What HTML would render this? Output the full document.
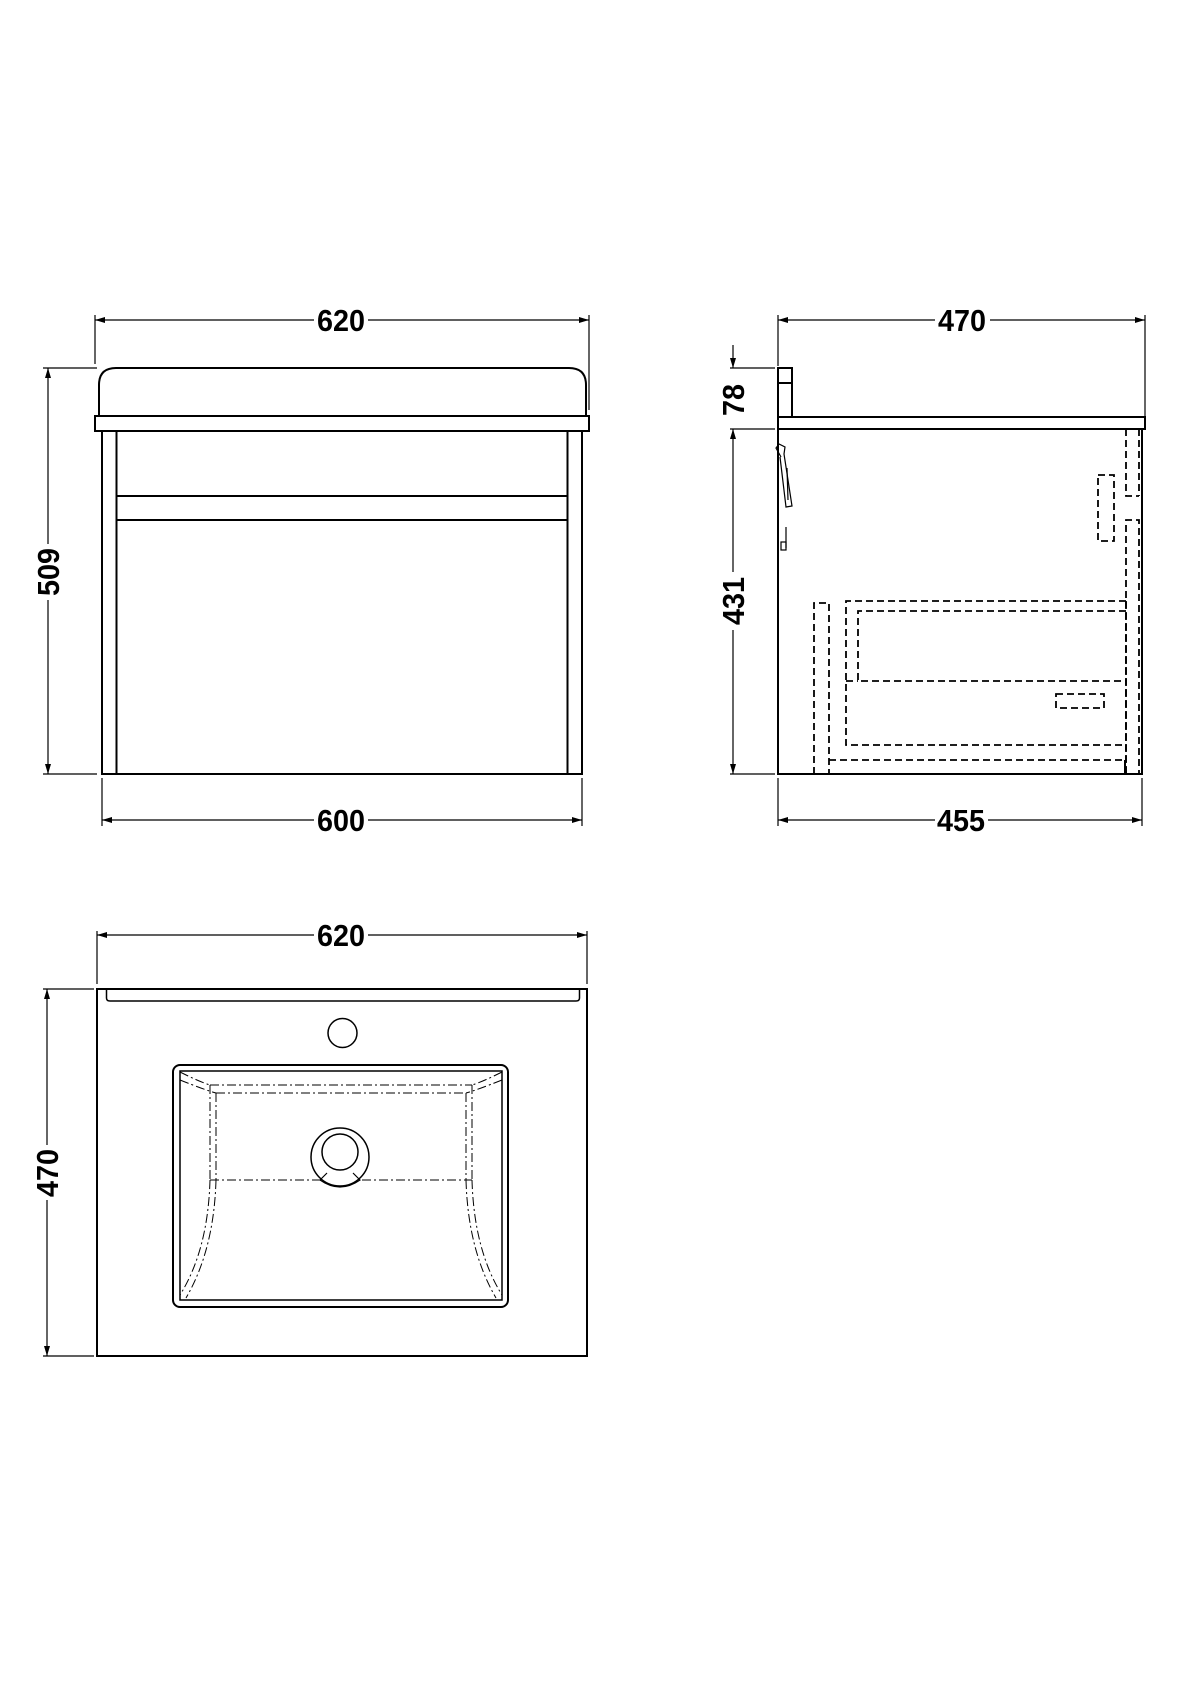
<!DOCTYPE html>
<html><head><meta charset="utf-8"><style>
html,body{margin:0;padding:0;background:#fff}
svg{display:block}
text{font-family:"Liberation Sans",sans-serif;font-weight:bold;font-size:31px;fill:#000}
</style></head><body>
<svg width="1190" height="1684" viewBox="0 0 1190 1684" xmlns="http://www.w3.org/2000/svg">
<defs>
<marker id="a" viewBox="0 0 10 6" refX="10" refY="3" markerWidth="10" markerHeight="6" markerUnits="userSpaceOnUse" orient="auto-start-reverse"><path d="M0 0L10 3L0 6Z" fill="#000"/></marker>
</defs>
<g fill="none" stroke="#000">
<!-- FRONT VIEW -->
<g stroke-width="1.2">
<line x1="95" y1="315" x2="95" y2="364"/><line x1="589" y1="315" x2="589" y2="410"/>
<line x1="95" y1="320" x2="314" y2="320" marker-start="url(#a)"/><line x1="368" y1="320" x2="589" y2="320" marker-end="url(#a)"/>
<line x1="43" y1="368" x2="97" y2="368"/><line x1="43" y1="774" x2="97" y2="774"/>
<line x1="48" y1="368" x2="48" y2="544" marker-start="url(#a)"/><line x1="48" y1="600" x2="48" y2="774" marker-end="url(#a)"/>
<line x1="102" y1="778" x2="102" y2="826"/><line x1="582" y1="778" x2="582" y2="826"/>
<line x1="102" y1="820" x2="314" y2="820" marker-start="url(#a)"/><line x1="368" y1="820" x2="582" y2="820" marker-end="url(#a)"/>
</g>
<g stroke-width="2">
<path d="M99 416V385Q99 368 116 368H569Q586 368 586 385V416"/>
<rect x="95" y="416" width="494" height="15"/>
<rect x="102" y="431" width="14.5" height="343"/>
<rect x="567.5" y="431" width="14.5" height="343"/>
<line x1="116.5" y1="496" x2="567.5" y2="496"/>
<line x1="116.5" y1="520" x2="567.5" y2="520"/>
<line x1="116.5" y1="774" x2="567.5" y2="774"/>
</g>
<!-- SIDE VIEW -->
<g stroke-width="1.2">
<line x1="778" y1="315" x2="778" y2="366"/><line x1="1145" y1="315" x2="1145" y2="416"/>
<line x1="778" y1="320" x2="935" y2="320" marker-start="url(#a)"/><line x1="990" y1="320" x2="1145" y2="320" marker-end="url(#a)"/>
<line x1="730" y1="368" x2="775" y2="368"/><line x1="730" y1="429" x2="775" y2="429"/><line x1="730" y1="774" x2="775" y2="774"/>
<line x1="733" y1="345" x2="733" y2="368" marker-end="url(#a)"/>
<line x1="733" y1="429" x2="733" y2="572" marker-start="url(#a)"/><line x1="733" y1="630" x2="733" y2="774" marker-end="url(#a)"/>
<line x1="778" y1="778" x2="778" y2="826"/><line x1="1142" y1="778" x2="1142" y2="826"/>
<line x1="778" y1="820" x2="935" y2="820" marker-start="url(#a)"/><line x1="988" y1="820" x2="1142" y2="820" marker-end="url(#a)"/>
</g>
<g stroke-width="2">
<rect x="778" y="368" width="14" height="49"/><line x1="778" y1="383" x2="792" y2="383"/>
<rect x="778" y="417" width="367" height="12"/>
<path d="M778 429V774H1142V429"/>
<line x1="1125" y1="760" x2="1125" y2="774"/>
</g>
<g stroke-width="1.2">
<path d="M781 457L776 448L779 444L785 447L784 454L792 506L786 507L780 457"/>
<line x1="787" y1="468" x2="788" y2="500"/>
<line x1="786" y1="527" x2="786" y2="548"/><rect x="781" y="542" width="5" height="8"/>
</g>
<g stroke-width="1.8" stroke-dasharray="7,4">
<path d="M1126 429V496H1139"/><path d="M1139 429V496"/>
<path d="M1126 774V520H1139V774"/>
<rect x="1098" y="475" width="16" height="66"/>
<path d="M1126 601H846V745H1126"/>
<path d="M1126 611H858V681H1126"/>
<line x1="846" y1="681" x2="858" y2="681"/>
<rect x="1056" y="694" width="48" height="14"/>
<path d="M814 774V603H829V774"/>
<path d="M829 760H1125"/>
<line x1="1126" y1="601" x2="1126" y2="774"/>
</g>
<!-- PLAN VIEW -->
<g stroke-width="1.2">
<line x1="97" y1="931" x2="97" y2="984"/><line x1="587" y1="931" x2="587" y2="984"/>
<line x1="97" y1="935" x2="314" y2="935" marker-start="url(#a)"/><line x1="368" y1="935" x2="587" y2="935" marker-end="url(#a)"/>
<line x1="43" y1="989" x2="94" y2="989"/><line x1="43" y1="1356" x2="94" y2="1356"/>
<line x1="47" y1="989" x2="47" y2="1145" marker-start="url(#a)"/><line x1="47" y1="1200" x2="47" y2="1356" marker-end="url(#a)"/>
</g>
<g stroke-width="2">
<rect x="97" y="989" width="490" height="367"/>
<path d="M106.5 989V998Q106.5 1001 110 1001H576Q579.5 1001 579.5 998V989" stroke-width="1.5"/>
<circle cx="342.5" cy="1033" r="14.5" stroke-width="1.5"/>
<rect x="173" y="1065" width="335" height="242" rx="7"/>
<rect x="180" y="1071" width="322" height="229" stroke-width="1.5"/>
<circle cx="340" cy="1157" r="29" stroke-width="1.5"/>
<circle cx="340" cy="1152" r="18" stroke-width="1.5"/>
<path d="M327 1173L320 1180Q330 1187 340 1187Q350 1187 360 1180L353 1173" stroke-width="1.2"/>
</g>
<g stroke-width="1" stroke-dasharray="9,3,2,3">
<path d="M210 1085H472"/><path d="M216 1093H466"/>
<path d="M210 1180H320"/><path d="M362 1180H472"/>
<path d="M210 1085V1180"/><path d="M216 1093V1180"/>
<path d="M472 1085V1180"/><path d="M466 1093V1180"/>
<path d="M180 1072Q200 1082 210 1085"/><path d="M180 1080Q205 1090 216 1093"/>
<path d="M502 1072Q482 1082 472 1085"/><path d="M502 1080Q477 1090 466 1093"/>
<path d="M210 1180Q208 1250 180 1295"/><path d="M216 1180Q214 1250 186 1298"/>
<path d="M472 1180Q474 1250 502 1295"/><path d="M466 1180Q468 1250 496 1298"/>
</g>
</g>
<g>
<text x="341" y="331" text-anchor="middle" textLength="48" lengthAdjust="spacingAndGlyphs">620</text>
<text x="341" y="831" text-anchor="middle" textLength="48" lengthAdjust="spacingAndGlyphs">600</text>
<text x="962" y="331" text-anchor="middle" textLength="48" lengthAdjust="spacingAndGlyphs">470</text>
<text x="961" y="831" text-anchor="middle" textLength="48" lengthAdjust="spacingAndGlyphs">455</text>
<text x="341" y="946" text-anchor="middle" textLength="48" lengthAdjust="spacingAndGlyphs">620</text>
<text transform="translate(59,572) rotate(-90)" text-anchor="middle" textLength="48" lengthAdjust="spacingAndGlyphs">509</text>
<text transform="translate(744,400) rotate(-90)" text-anchor="middle" textLength="32" lengthAdjust="spacingAndGlyphs">78</text>
<text transform="translate(744,601) rotate(-90)" text-anchor="middle" textLength="48" lengthAdjust="spacingAndGlyphs">431</text>
<text transform="translate(58,1173) rotate(-90)" text-anchor="middle" textLength="48" lengthAdjust="spacingAndGlyphs">470</text>
</g>
</svg>
</body></html>
